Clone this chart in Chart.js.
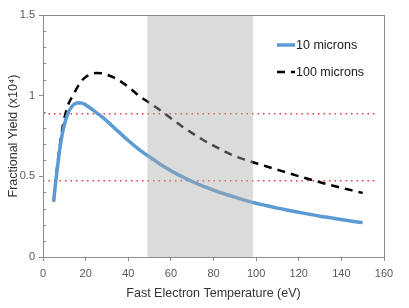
<!DOCTYPE html>
<html>
<head>
<meta charset="utf-8">
<script src="https://cdn.jsdelivr.net/npm/chart.js@4.4.0/dist/chart.umd.min.js"></script>
<style>
  html, body { margin: 0; padding: 0; background: #fff; }
  #wrap { width: 409px; height: 308px; }
</style>
</head>
<body>
<div id="wrap"><canvas id="yieldChart" width="409" height="308"></canvas></div>
<script>
'use strict';

// temperatures (eV) and yields (x10^4)
const temps = [5, 6, 7, 8, 9, 10, 12, 14, 16, 18, 20, 22, 25, 28, 30, 35, 40, 45, 50, 55, 60, 65, 70, 75, 80, 85, 90, 95, 100, 105, 110, 115, 120, 125, 130, 135, 140, 145, 150];
const yield10 = [0.345, 0.47, 0.58, 0.68, 0.76, 0.82, 0.9, 0.94, 0.955, 0.955, 0.943, 0.925, 0.895, 0.865, 0.842, 0.782, 0.722, 0.667, 0.62, 0.575, 0.535, 0.5, 0.468, 0.44, 0.415, 0.392, 0.371, 0.351, 0.333, 0.318, 0.303, 0.29, 0.277, 0.265, 0.253, 0.243, 0.232, 0.222, 0.213];
const yield100 = [0.345, 0.48, 0.6, 0.7, 0.79, 0.86, 0.95, 1.0, 1.05, 1.09, 1.115, 1.13, 1.14, 1.138, 1.13, 1.1, 1.055, 1.0, 0.955, 0.91, 0.86, 0.812, 0.768, 0.727, 0.69, 0.656, 0.625, 0.602, 0.581, 0.561, 0.541, 0.521, 0.501, 0.482, 0.463, 0.446, 0.429, 0.413, 0.397];
const seriesNames = ['10 microns', '100 microns'];
const refLevels = [0.888, 0.473];
const refRange = [0, 156];
const shadeRange = [49, 98.5];
const yTickLabels = ['0', '0.5', '1', '1.5'];

const toPoints = (xs, ys) => xs.map((x, i) => ({ x: x, y: ys[i] }));

const refSets = refLevels.map((lvl) => ({
  label: 'ref',
  data: [{ x: refRange[0], y: lvl }, { x: refRange[1], y: lvl }],
  borderColor: '#ee3b3b',
  borderWidth: 1.5,
  borderDash: [1.5, 4],
  pointRadius: 0,
  showLine: true,
}));

// grey band laid over the curves, plus frame, minor ticks and legend
const extras = {
  id: 'extras',
  afterDatasetsDraw(chart) {
    const { ctx, chartArea, scales } = chart;
    const x0 = scales.x.getPixelForValue(shadeRange[0]);
    const x1 = scales.x.getPixelForValue(shadeRange[1]);
    ctx.save();
    ctx.fillStyle = 'rgba(170,170,170,0.42)';
    ctx.fillRect(x0, chartArea.top, x1 - x0, chartArea.bottom - chartArea.top);
    ctx.strokeStyle = '#8c8c8c';
    ctx.lineWidth = 1;
    ctx.strokeRect(chartArea.left + 0.5, chartArea.top + 0.5, chartArea.right - chartArea.left, chartArea.bottom - chartArea.top);
    for (let v = 0.1; v < 1.5; v += 0.1) {
      if (Math.abs(v * 2 - Math.round(v * 2)) < 1e-6) continue;
      const y = Math.round(scales.y.getPixelForValue(v)) + 0.5;
      ctx.beginPath();
      ctx.moveTo(chartArea.left, y);
      ctx.lineTo(chartArea.left + 3, y);
      ctx.stroke();
    }
    ctx.restore();
  },
  afterDraw(chart) {
    const { ctx } = chart;
    const sets = chart.data.datasets.slice(0, 2);
    ctx.save();
    ctx.font = '12.5px "Liberation Sans", Arial, sans-serif';
    ctx.textBaseline = 'middle';
    ctx.fillStyle = '#222';
    sets.forEach((ds, i) => {
      const y = 45 + i * 27;
      ctx.beginPath();
      ctx.strokeStyle = ds.borderColor;
      ctx.lineWidth = ds.borderWidth;
      ctx.setLineDash(ds.borderDash || []);
      ctx.moveTo(277, y);
      ctx.lineTo(295, y);
      ctx.stroke();
      ctx.setLineDash([]);
      ctx.fillText(ds.label, 296, y + 1);
    });
    ctx.restore();
  },
};

const ctx = document.getElementById('yieldChart');
new Chart(ctx, {
  type: 'line',
  data: {
    datasets: [
      {
        label: seriesNames[0],
        data: toPoints(temps, yield10),
        borderColor: '#5b9bd5',
        borderWidth: 3.5,
        pointRadius: 0,
        cubicInterpolationMode: 'monotone',
      },
      {
        label: seriesNames[1],
        data: toPoints(temps, yield100),
        borderColor: '#000000',
        borderWidth: 2.5,
        borderDash: [8, 6],
        pointRadius: 0,
        cubicInterpolationMode: 'monotone',
      },
      ...refSets,
    ],
  },
  options: {
    responsive: false,
    animation: false,
    layout: { padding: { top: 15, right: 25, left: 0, bottom: 0 } },
    plugins: { legend: { display: false }, tooltip: { enabled: false } },
    scales: {
      x: {
        type: 'linear',
        min: 0,
        max: 160,
        ticks: { stepSize: 20, color: '#595959', font: { size: 11, family: 'Liberation Sans' }, padding: 6 },
        grid: { drawOnChartArea: false, tickLength: 4, color: '#8c8c8c' },
        border: { color: '#8c8c8c' },
        title: { display: true, text: 'Fast Electron Temperature (eV)', color: '#333', font: { size: 12.5, family: 'Liberation Sans' }, padding: { top: 4, bottom: 7 } },
        afterFit: (scale) => { scale.height = 51; },
      },
      y: {
        min: 0,
        max: 1.5,
        ticks: {
          stepSize: 0.5,
          color: '#595959',
          font: { size: 11, family: 'Liberation Sans' },
          padding: 4,
          callback: (v) => yTickLabels[Math.round(v * 2)],
        },
        grid: { drawOnChartArea: false, tickLength: 4, color: '#8c8c8c' },
        border: { color: '#8c8c8c' },
        title: { display: true, text: 'Fractional Yield (x10\u2074)', color: '#333', font: { size: 12.5, family: 'Liberation Sans' }, padding: { top: 6, bottom: 0 } },
        afterFit: (scale) => { scale.width = 43; },
      },
    },
  },
  plugins: [extras],
});
</script>
</body>
</html>
